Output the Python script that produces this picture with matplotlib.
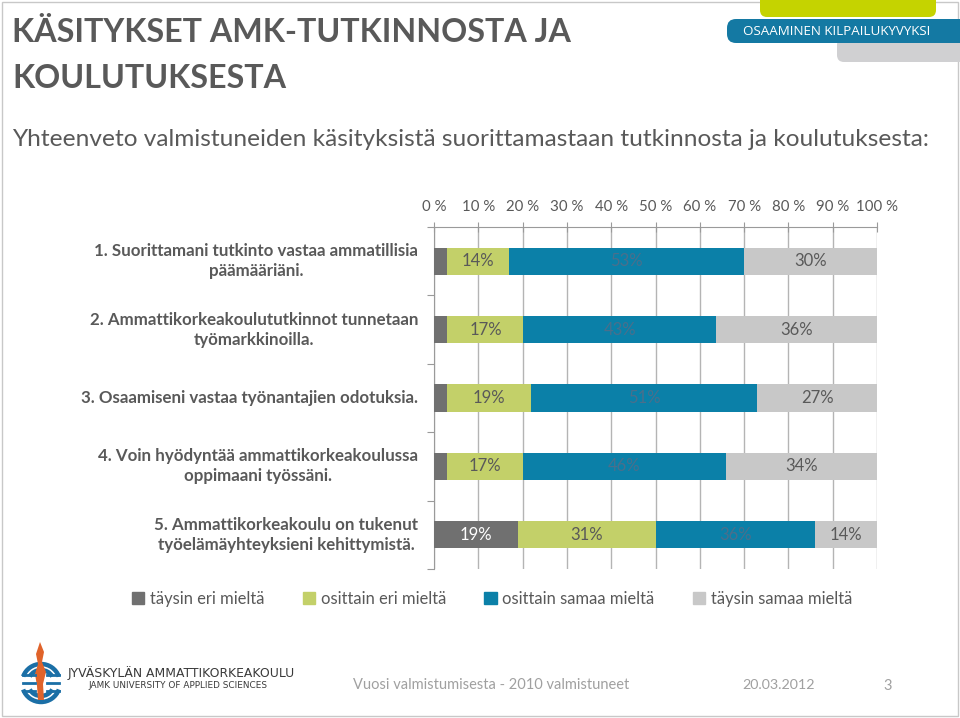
import matplotlib
matplotlib.use("Agg")
import matplotlib.pyplot as plt
import numpy as np
from matplotlib.patches import FancyBboxPatch, Rectangle, Arc, Polygon, Patch

plt.rcParams['font.family'] = ['Lato', 'DejaVu Sans']

# ---- data ----
categories = [
    "1. Suorittamani tutkinto vastaa ammatillisia\npäämääriäni.",
    "2. Ammattikorkeakoulututkinnot tunnetaan\ntyömarkkinoilla.",
    "3. Osaamiseni vastaa työnantajien odotuksia.",
    "4. Voin hyödyntää ammattikorkeakoulussa\noppimaani työssäni.",
    "5. Ammattikorkeakoulu on tukenut\ntyöelämäyhteyksieni kehittymistä.",
]
series_names = ["täysin eri mieltä", "osittain eri mieltä",
                "osittain samaa mieltä", "täysin samaa mieltä"]
taysin_eri = [3, 3, 3, 3, 19]
osittain_eri = [14, 17, 19, 17, 31]
osittain_samaa = [53, 43, 51, 46, 36]
taysin_samaa = [30, 36, 27, 34, 14]
x_ticks = [0, 10, 20, 30, 40, 50, 60, 70, 80, 90, 100]
x_tick_labels = ["0 %", "10 %", "20 %", "30 %", "40 %", "50 %",
                 "60 %", "70 %", "80 %", "90 %", "100 %"]

colors = ["#707070", "#c3d069", "#0b80a8", "#c8c8c8"]
label_colors = ["#ffffff", "#595959", "#4a6f8c", "#595959"]
TXT = "#595959"

W, H = 960, 718
fig = plt.figure(figsize=(W / 100, H / 100), dpi=100)

# background / decoration layer in pixel coords
bg = fig.add_axes([0, 0, 1, 1])
bg.set_xlim(0, W)
bg.set_ylim(H, 0)
bg.axis("off")

bg.add_patch(Rectangle((1.5, 1.5), W - 4, H - 4, fill=False, ec="#c8c8c8", lw=1))

# header banners
bg.add_patch(FancyBboxPatch((760, -10), 176, 27, boxstyle="round,pad=0,rounding_size=7",
                            fc="#c5d300", ec="none"))
bg.add_patch(FancyBboxPatch((837, 38), 135, 24, boxstyle="round,pad=0,rounding_size=7",
                            fc="#d0d0d2", ec="none"))
bg.add_patch(FancyBboxPatch((727, 19), 245, 24, boxstyle="round,pad=0,rounding_size=9",
                            fc="#1479a3", ec="none"))
bg.text(837, 31.5, "OSAAMINEN KILPAILUKYVYKSI", color="white", fontsize=9.6,
        ha="center", va="center", family=["Open Sans", "DejaVu Sans"])

# title and subtitle
bg.text(12, 33, "KÄSITYKSET AMK-TUTKINNOSTA JA", fontsize=23.2, fontweight="bold",
        color=TXT, ha="left", va="center")
bg.text(12, 78, "KOULUTUKSESTA", fontsize=23.2, fontweight="bold",
        color=TXT, ha="left", va="center")
bg.text(12, 139, "Yhteenveto valmistuneiden käsityksistä suorittamastaan tutkinnosta ja koulutuksesta:",
        fontsize=17.6, color=TXT, ha="left", va="center")

# footer logo (simplified)
cx, cy = 41, 683
for r, t1, t2 in [(19, 200, 340), (19, 20, 160), (13, 210, 330), (13, 30, 150)]:
    bg.add_patch(Arc((cx, cy), 2 * r, 2 * r, theta1=t1, theta2=t2, color="#1b6fa6", lw=3.2))
for dy in [-8, 0, 8]:
    bg.plot([cx - 18, cx - 6], [cy + dy, cy + dy], color="#1b6fa6", lw=2)
    bg.plot([cx + 6, cx + 18], [cy + dy, cy + dy], color="#1b6fa6", lw=2)
flame = Polygon([[40, 642], [44, 652], [42, 662], [46, 672], [43, 684], [44, 700],
                 [38, 700], [37, 686], [35, 674], [38, 664], [36, 654]],
                closed=True, fc="#e0632a", ec="none")
bg.add_patch(flame)
bg.text(68, 673, "JYVÄSKYLÄN AMMATTIKORKEAKOULU", fontsize=8.9, color="#3a3a3a",
        ha="left", va="center", family=["Liberation Sans Narrow", "DejaVu Sans"])
bg.text(88, 686, "JAMK UNIVERSITY OF APPLIED SCIENCES", fontsize=6.4, color="#3a3a3a",
        ha="left", va="center", family=["Liberation Sans Narrow", "DejaVu Sans"])
bg.text(353, 685, "Vuosi valmistumisesta - 2010 valmistuneet", fontsize=10.5,
        color="#a0a0a0", ha="left", va="center")
bg.text(742, 685, "20.03.2012", fontsize=10.3, color="#a0a0a0", ha="left", va="center")
bg.text(883, 686, "3", fontsize=10.5, color="#a0a0a0", ha="left", va="center")

# ---- chart ----
ax = fig.add_axes([434 / W, 1 - 569 / H, 443 / W, 342 / H])
data = np.array([taysin_eri, osittain_eri, osittain_samaa, taysin_samaa], dtype=float)
shares = data / data.sum(axis=0) * 100
ypos = np.arange(len(categories))
left = np.zeros(len(categories))
for i, name in enumerate(series_names):
    bars = ax.barh(ypos, shares[i], left=left, height=0.4, color=colors[i],
                   label=name, zorder=3)
    for j, b in enumerate(bars):
        v = data[i][j]
        if v >= 5:
            ax.text(left[j] + shares[i][j] / 2, ypos[j], f"{int(v)}%", ha="center",
                    va="center", color=label_colors[i], fontsize=12, zorder=4)
    left += shares[i]

ax.set_xlim(0, 100)
ax.set_ylim(len(categories) - 0.5, -0.5)
ax.xaxis.tick_top()
ax.set_xticks(x_ticks)
ax.set_xticklabels(x_tick_labels, fontsize=10.8, color=TXT)
ax.tick_params(axis="x", direction="inout", length=7, color="#9a9a9a", pad=6)
ax.set_yticks(np.arange(-0.5, len(categories), 1))
ax.set_yticklabels([])
ax.tick_params(axis="y", direction="out", length=5, color="#9a9a9a")
ax.grid(axis="x", color="#b4b4b4", lw=1, zorder=0)
for s in ["right", "bottom"]:
    ax.spines[s].set_visible(False)
for s in ["top", "left"]:
    ax.spines[s].set_color("#9a9a9a")

for j, c in enumerate(categories):
    ax.text(-3.6, ypos[j], c, ha="right", va="center", multialignment="center",
            fontsize=12.2, fontweight="bold", color=TXT, linespacing=1.3,
            transform=ax.transData)

leg = fig.legend(handles=[Patch(color=c) for c in colors], labels=series_names,
                 loc="center", bbox_to_anchor=(492 / W, 1 - 599 / H), ncol=4,
                 frameon=False, fontsize=11.9, handlelength=0.75, handleheight=0.75,
                 handletextpad=0.35, columnspacing=2.3)
for t in leg.get_texts():
    t.set_color(TXT)

fig.savefig("out.png", dpi=100)
